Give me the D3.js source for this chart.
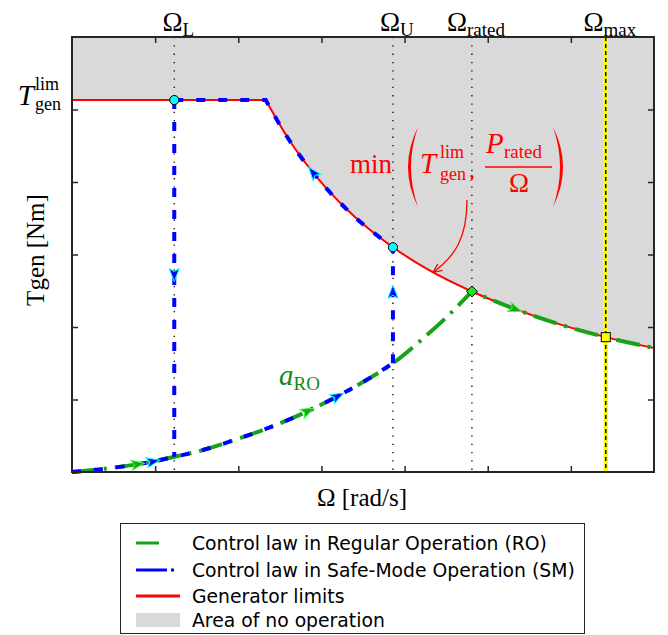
<!DOCTYPE html>
<html>
<head>
<meta charset="utf-8">
<script src="https://cdn.jsdelivr.net/npm/d3@7"></script>
<style>
  body { margin: 0; background: #fff; }
  svg { display: block; }
</style>
</head>
<body>
<svg id="chart" width="668" height="635"></svg>
<script>
// ---- data ----------------------------------------------------------------
// axis ticks (unlabelled, arbitrary units)
const omegaTicks = [1, 2, 3, 4, 5, 6];
const torqueTicks = [1, 2, 3, 4, 5];

// characteristic rotor speeds and the torque limit
const omegaL = 1.23;
const omegaU = 3.86;
const omegaRated = 4.81;
const omegaMax = 6.42;
const torqueLim = 5.13;

// generator limit: min(Tgen_lim, P_rated / Omega)
const limitOmega  = [0, 2.33, 2.6, 3.0, 3.4, 3.86, 4.3, 4.81, 5.3, 5.8, 6.42, 7.0];
const limitTorque = [5.13, 5.13, 4.60, 3.99, 3.52, 3.10, 2.78, 2.49, 2.26, 2.06, 1.86, 1.71];

// regular-operation control law a_RO below rated speed
const aroOmega  = [0, 0.5, 1.0, 1.23, 1.5, 2.0, 2.5, 3.0, 3.5, 3.86, 4.2, 4.5, 4.81];
const aroTorque = [0, 0.06, 0.15, 0.21, 0.28, 0.46, 0.67, 0.93, 1.24, 1.50, 1.82, 2.13, 2.49];

const legendLabels = [
  "Control law in Regular Operation (RO)",
  "Control law in Safe-Mode Operation (SM)",
  "Generator limits",
  "Area of no operation"
];

// ---- setup ---------------------------------------------------------------
const svg = d3.select("#chart");
const plot = { left: 72, right: 654, top: 37, bottom: 472 };
const x = d3.scaleLinear().domain([0, 7]).range([plot.left, plot.right]);
const y = d3.scaleLinear().domain([0, 6]).range([plot.bottom, plot.top]);

const GREEN = "#17a317", BLUE = "#0000ff", RED = "#ff0000", GREY = "#d9d9d9";
const serif = "'Liberation Serif', 'Times New Roman', serif";
const sans = "'DejaVu Sans', sans-serif";

const limitPts = limitOmega.map((w, i) => [w, limitTorque[i]]);
const aroPts = aroOmega.map((w, i) => [w, aroTorque[i]]);
const kneeIdx = limitTorque.findIndex(t => t < torqueLim) - 1;
const limitAt = w => limitPts.find(p => p[0] === w)[1];
const aroAt = w => aroPts.find(p => p[0] === w)[1];

const lin = d3.line().x(d => x(d[0])).y(d => y(d[1]));
const mono = d3.line().x(d => x(d[0])).y(d => y(d[1])).curve(d3.curveMonotoneX);
const join = (a, b) => a + b.replace(/^M/, "L");

// generator limit path: flat torque cap, then the constant-power hyperbola
const limitFlat = limitPts.slice(0, kneeIdx + 1);
const limitFall = limitPts.slice(kneeIdx);
const limitD = join(lin(limitFlat), mono(limitFall));

// ---- area of no operation ------------------------------------------------
svg.append("path")
  .attr("d", limitD + `L${x(7)},${y(6)}L${x(0)},${y(6)}Z`)
  .attr("fill", GREY);

// ---- dotted guide lines --------------------------------------------------
[omegaL, omegaU, omegaRated].forEach(w => {
  svg.append("line")
    .attr("x1", x(w)).attr("x2", x(w))
    .attr("y1", y(6)).attr("y2", y(0))
    .attr("stroke", "#000").attr("stroke-width", 1.3)
    .attr("stroke-dasharray", "1.3,7");
});

// ---- generator limits ----------------------------------------------------
svg.append("path").attr("d", limitD)
  .attr("fill", "none").attr("stroke", RED).attr("stroke-width", 2);

// ---- regular operation (RO) ----------------------------------------------
const greenD = join(mono(aroPts), mono(limitPts.filter(p => p[0] >= omegaRated)));
const greenPath = svg.append("path").attr("d", greenD)
  .attr("fill", "none").attr("stroke", GREEN).attr("stroke-width", 4)
  .attr("stroke-dasharray", "24,8,3,8");

// ---- safe-mode operation (SM) --------------------------------------------
const blueStyle = sel => sel.attr("fill", "none").attr("stroke", BLUE)
  .attr("stroke-width", 4).attr("stroke-dasharray", "9,13");

const blueA = svg.append("path")
  .attr("d", mono(aroPts.filter(p => p[0] <= omegaU))).call(blueStyle);
const blueUp = svg.append("path")
  .attr("d", lin([[omegaU, aroAt(omegaU)], [omegaU, limitAt(omegaU)]])).call(blueStyle);
const blueC = svg.append("path")
  .attr("d", join(lin([[omegaL, torqueLim], limitPts[kneeIdx]]),
                  mono(limitFall.filter(p => p[0] <= omegaU)))).call(blueStyle);
const blueDown = svg.append("path")
  .attr("d", lin([[omegaL, torqueLim], [omegaL, aroAt(omegaL)]])).call(blueStyle);

// ---- direction arrows ----------------------------------------------------
function pointNear(node, px, py) {
  const L = node.getTotalLength();
  let best = 0, bd = Infinity;
  for (let l = 0; l <= L; l += 0.5) {
    const p = node.getPointAtLength(l);
    const d = px != null ? Math.abs(p.x - px) : Math.abs(p.y - py);
    if (d < bd) { bd = d; best = l; }
  }
  const p = node.getPointAtLength(best);
  const a = node.getPointAtLength(Math.max(0, best - 2));
  const b = node.getPointAtLength(Math.min(L, best + 2));
  return { x: p.x, y: p.y, ang: Math.atan2(b.y - a.y, b.x - a.x) * 180 / Math.PI };
}
const arrows = [
  { path: greenPath, w: 0.79, fill: GREEN, edge: "#3dff3d" },
  { path: greenPath, w: 2.83, fill: GREEN, edge: "#3dff3d" },
  { path: greenPath, w: 5.33, fill: GREEN, edge: "#3dff3d" },
  { path: blueA, w: 0.97, fill: BLUE, edge: "#00ffff" },
  { path: blueA, w: 3.19, fill: BLUE, edge: "#00ffff" },
  { path: blueC, w: 2.90, fill: BLUE, edge: "#00ffff", reverse: true },
  { path: blueDown, t: 2.72, fill: BLUE, edge: "#00ffff" },
  { path: blueUp, t: 2.48, fill: BLUE, edge: "#00ffff" }
];
arrows.forEach(a => {
  const p = a.w != null ? pointNear(a.path.node(), x(a.w), null)
                        : pointNear(a.path.node(), null, y(a.t));
  const ang = p.ang + (a.reverse ? 180 : 0);
  svg.append("path")
    .attr("d", "M7,0L-6,-5L-3,0L-6,5Z")
    .attr("transform", `translate(${p.x},${p.y}) rotate(${ang})`)
    .attr("fill", a.fill).attr("stroke", a.edge).attr("stroke-width", 1)
    .attr("stroke-linejoin", "miter");
});

// ---- maximum speed line ----------------------------------------------------
svg.append("line")
  .attr("x1", x(omegaMax)).attr("x2", x(omegaMax))
  .attr("y1", y(6)).attr("y2", y(0))
  .attr("stroke", "#ffff00").attr("stroke-width", 4.5);
svg.append("line")
  .attr("x1", x(omegaMax)).attr("x2", x(omegaMax))
  .attr("y1", y(6)).attr("y2", y(0))
  .attr("stroke", "#000").attr("stroke-width", 1.4)
  .attr("stroke-dasharray", "4,3");

// ---- operating-point markers ---------------------------------------------
[[omegaL, torqueLim], [omegaU, limitAt(omegaU)]].forEach(p => {
  svg.append("circle").attr("cx", x(p[0])).attr("cy", y(p[1])).attr("r", 4.6)
    .attr("fill", "#00ffff").attr("stroke", "#000").attr("stroke-width", 1);
});
svg.append("path")
  .attr("d", "M0,-5.5L5.5,0L0,5.5L-5.5,0Z")
  .attr("transform", `translate(${x(omegaRated)},${y(limitAt(omegaRated))})`)
  .attr("fill", "#22e022").attr("stroke", "#000").attr("stroke-width", 1);
svg.append("rect")
  .attr("x", x(omegaMax) - 4.5).attr("y", y(limitAt(omegaMax)) - 4.5)
  .attr("width", 9).attr("height", 9)
  .attr("fill", "#ffff00").attr("stroke", "#000").attr("stroke-width", 1);

// ---- axes box and ticks --------------------------------------------------
const axisG = svg.append("g").attr("stroke", "#262626");
const tickStyle = g => { g.select(".domain").remove();
  g.selectAll(".tick line").attr("stroke", "#262626").attr("stroke-width", 1.5); };
axisG.append("g").attr("transform", `translate(0,${plot.bottom})`)
  .call(d3.axisBottom(x).tickValues(omegaTicks).tickSize(-6).tickFormat("")).call(tickStyle);
axisG.append("g").attr("transform", `translate(0,${plot.top})`)
  .call(d3.axisTop(x).tickValues(omegaTicks).tickSize(-6).tickFormat("")).call(tickStyle);
axisG.append("g").attr("transform", `translate(${plot.left},0)`)
  .call(d3.axisLeft(y).tickValues(torqueTicks).tickSize(-6).tickFormat("")).call(tickStyle);
axisG.append("g").attr("transform", `translate(${plot.right},0)`)
  .call(d3.axisRight(y).tickValues(torqueTicks).tickSize(-6).tickFormat("")).call(tickStyle);
svg.append("rect")
  .attr("x", plot.left).attr("y", plot.top)
  .attr("width", plot.right - plot.left).attr("height", plot.bottom - plot.top)
  .attr("fill", "none").attr("stroke", "#262626").attr("stroke-width", 2);

// ---- speed labels along the top ------------------------------------------
[[omegaL, "L"], [omegaU, "U"], [omegaRated, "rated"], [omegaMax, "max"]].forEach(([w, sub]) => {
  const t = svg.append("text").attr("x", x(w) + 4).attr("y", 31)
    .attr("text-anchor", "middle").attr("font-family", serif).attr("fill", "#000");
  t.append("tspan").attr("font-size", 27).text("Ω");
  t.append("tspan").attr("font-size", 19).attr("dy", 5).text(sub);
});

// ---- torque-limit tick label ---------------------------------------------
svg.append("text").attr("x", 34).attr("y", 105).attr("text-anchor", "end")
  .attr("font-family", serif).attr("font-style", "italic").attr("font-size", 29).text("T");
svg.append("text").attr("x", 35).attr("y", 90)
  .attr("font-family", serif).attr("font-size", 18).text("lim");
svg.append("text").attr("x", 35).attr("y", 110)
  .attr("font-family", serif).attr("font-size", 18).text("gen");

// ---- axis titles ---------------------------------------------------------
svg.append("text")
  .attr("transform", "translate(44,250) rotate(-90)")
  .attr("text-anchor", "middle").attr("font-family", serif).attr("font-size", 25)
  .text("Tgen [Nm]");
svg.append("text").attr("x", 362).attr("y", 506)
  .attr("text-anchor", "middle").attr("font-family", serif).attr("font-size", 25)
  .text("Ω [rad/s]");

// ---- a_RO label ----------------------------------------------------------
const aro = svg.append("text").attr("x", 279).attr("y", 385)
  .attr("font-family", serif).attr("fill", "#138a13");
aro.append("tspan").attr("font-style", "italic").attr("font-size", 29).text("a");
aro.append("tspan").attr("font-size", 19).attr("dy", 5).text("RO");

// ---- limit formula annotation --------------------------------------------
const ann = svg.append("g").attr("fill", RED).attr("font-family", serif);
ann.append("text").attr("x", 350).attr("y", 173).attr("font-size", 27).text("min");
ann.append("path").attr("d", "M418,127Q398,167 418,207Q404,167 418,127Z");
ann.append("path").attr("d", "M553,127Q573,167 553,207Q567,167 553,127Z");
ann.append("text").attr("x", 420).attr("y", 173).attr("font-size", 29)
  .attr("font-style", "italic").text("T");
ann.append("text").attr("x", 440).attr("y", 158).attr("font-size", 18).text("lim");
ann.append("text").attr("x", 440).attr("y", 180).attr("font-size", 18).text("gen");
ann.append("text").attr("x", 469).attr("y", 177).attr("font-size", 24).text(",");
ann.append("text").attr("x", 486).attr("y", 153).attr("font-size", 29)
  .attr("font-style", "italic").text("P");
ann.append("text").attr("x", 504).attr("y", 158).attr("font-size", 19).text("rated");
ann.append("line").attr("x1", 485).attr("x2", 552).attr("y1", 167).attr("y2", 167)
  .attr("stroke", RED).attr("stroke-width", 1.6);
ann.append("text").attr("x", 519).attr("y", 192).attr("font-size", 27)
  .attr("text-anchor", "middle").text("Ω");
// curved pointer onto the limit curve
const tipW = 4.34;
const tip = pointNear(svg.append("path").attr("d", limitD).attr("fill", "none").node(), x(tipW), null);
const startX = 467, startY = 200;
svg.append("path")
  .attr("d", `M${startX},${startY}C${startX},${startY + 38} ${tip.x + 22},${tip.y - 16} ${tip.x},${tip.y}`)
  .attr("fill", "none").attr("stroke", RED).attr("stroke-width", 1.3);
svg.append("path")
  .attr("d", "M-9,-4L0,0L-9,4")
  .attr("transform", `translate(${tip.x},${tip.y}) rotate(${Math.atan2(16, -22) * 180 / Math.PI})`)
  .attr("fill", "none").attr("stroke", RED).attr("stroke-width", 1.3);

// ---- legend --------------------------------------------------------------
const lg = svg.append("g");
lg.append("rect").attr("x", 120.5).attr("y", 523.5).attr("width", 464).attr("height", 110)
  .attr("fill", "#fff").attr("stroke", "#262626").attr("stroke-width", 1);
const rowY = [543, 570, 596, 620];
lg.append("line").attr("x1", 136).attr("x2", 180).attr("y1", rowY[0]).attr("y2", rowY[0])
  .attr("stroke", GREEN).attr("stroke-width", 3).attr("stroke-dasharray", "23,100");
lg.append("line").attr("x1", 136).attr("x2", 180).attr("y1", rowY[1]).attr("y2", rowY[1])
  .attr("stroke", BLUE).attr("stroke-width", 3).attr("stroke-dasharray", "31,4,3,100");
lg.append("line").attr("x1", 136).attr("x2", 180).attr("y1", rowY[2]).attr("y2", rowY[2])
  .attr("stroke", RED).attr("stroke-width", 3);
lg.append("rect").attr("x", 136).attr("y", rowY[3] - 7).attr("width", 44).attr("height", 14)
  .attr("fill", GREY);
legendLabels.forEach((s, i) => {
  lg.append("text").attr("x", 192).attr("y", rowY[i] + 6.5)
    .attr("font-family", sans).attr("font-size", 18.8).attr("fill", "#000").text(s);
});
</script>
</body>
</html>
